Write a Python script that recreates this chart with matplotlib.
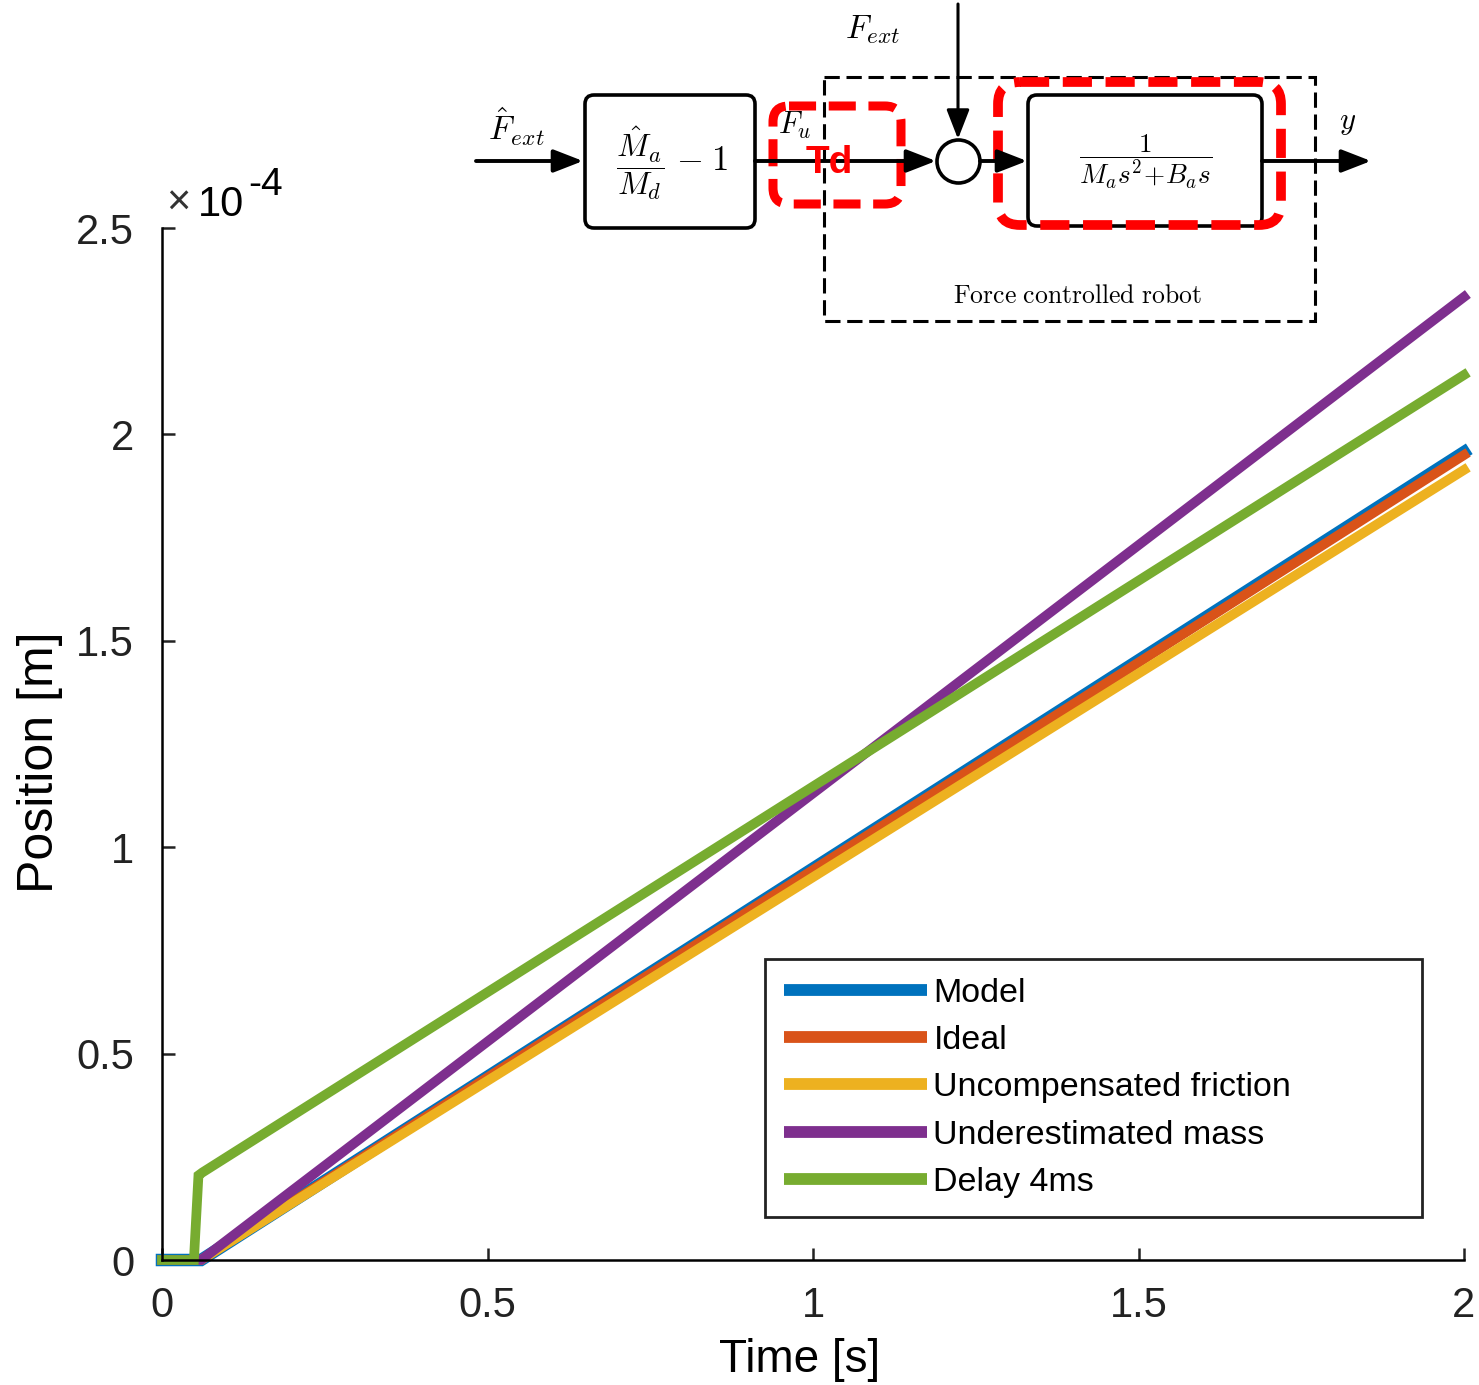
import numpy as np
import matplotlib
matplotlib.use('Agg')
import matplotlib.pyplot as plt
from matplotlib.patches import FancyBboxPatch, Circle, Rectangle

plt.rcParams['font.family'] = ['Liberation Sans', 'DejaVu Sans']
plt.rcParams['mathtext.fontset'] = 'cm'

# data, position in units of 1e-4 m
t_model = [0.0, 0.06, 2.0]
p_model = [0.0, 0.0, 1.957]
t_ideal = [0.0, 0.06, 2.0]
p_ideal = [0.0, 0.0, 1.950]
t_fric = [0.0, 0.06, 2.0]
p_fric = [0.0, 0.0, 1.914]
t_mass = [0.0, 0.06, 2.0]
p_mass = [0.0, 0.0, 2.333]
t_delay = [0.0, 0.049, 0.056, 0.062, 2.0]
p_delay = [0.0, 0.0, 0.205, 0.212, 2.144]

labels = ['Model', 'Ideal', 'Uncompensated friction', 'Underestimated mass', 'Delay 4ms']
colors = ['#0072BD', '#D95319', '#EDB120', '#7E2F8E', '#77AC30']
xticks = [0, 0.5, 1, 1.5, 2]
xticklabels = ['0', '0.5', '1', '1.5', '2']
yticks = [0, 0.5, 1, 1.5, 2, 2.5]
yticklabels = ['0', '0.5', '1', '1.5', '2', '2.5']

W, H = 1479, 1385
fig = plt.figure(figsize=(W / 100, H / 100), dpi=100)
ax = fig.add_axes([162 / W, 1 - 1260 / H, (1464 - 162) / W, (1260 - 228) / H])

series = [(t_model, p_model), (t_ideal, p_ideal), (t_fric, p_fric),
          (t_mass, p_mass), (t_delay, p_delay)]
widths = [9.0, 7.0, 7.0, 7.0, 7.0]
for (t, p), lab, c, lw in zip(series, labels, colors, widths):
    ax.plot(t, p, color=c, lw=lw, label=lab, clip_on=False,
            solid_joinstyle='miter')

ax.set_xlim(0, 2)
ax.set_ylim(0, 2.5)
ax.set_xticks(xticks)
ax.set_xticklabels(xticklabels)
ax.set_yticks(yticks)
ax.set_yticklabels(yticklabels)
for s in ['top', 'right']:
    ax.spines[s].set_visible(False)
for s in ['left', 'bottom']:
    ax.spines[s].set_linewidth(1.8)
ax.tick_params(direction='in', length=9, width=1.8, labelsize=30,
               pad=20, colors='#222222')
ax.tick_params(axis='x', pad=19)

fig.text(800 / W, 1 - 1360 / H, 'Time [s]', fontsize=33, ha='center', va='center')
fig.text(40 / W, 1 - 762 / H, 'Position [m]', fontsize=36, rotation=90,
         ha='center', va='center')
fig.text(178 / W, 1 - 204 / H, '\u00d7', fontsize=30, ha='center', va='center',
         color='#333333')
fig.text(198 / W, 1 - 216 / H, '10', fontsize=30, ha='left', va='baseline')
fig.text(248 / W, 1 - 195 / H, '-4', fontsize=28, ha='left', va='baseline')

leg = ax.legend(loc='upper left',
                bbox_to_anchor=((765 - 162) / (1464 - 162),
                                (1260 - 959) / (1260 - 228),
                                (1422 - 765) / (1464 - 162),
                                0.0),
                mode='expand', borderaxespad=0,
                prop={'size': 24.5},
                handlelength=4.2, handletextpad=0.2, labelspacing=0.48,
                borderpad=0.55, fancybox=False, framealpha=1, edgecolor='#222222')
leg.get_frame().set_linewidth(2.0)
for h in leg.get_lines():
    h.set_linewidth(8.5)
    h.set_solid_capstyle('butt')

# block diagram on top, drawn in pixel coordinates
d = fig.add_axes([0, 0, 1, 1], zorder=5)
d.set_xlim(0, W)
d.set_ylim(H, 0)
d.axis('off')
d.patch.set_alpha(0)

arrow = dict(arrowstyle='-|>,head_length=0.9,head_width=0.35', lw=2.8, color='k',
             mutation_scale=20, shrinkA=0, shrinkB=0)
d.annotate('', xy=(583, 161), xytext=(476, 161), arrowprops=arrow)
d.annotate('', xy=(936, 161), xytext=(755, 161), arrowprops=arrow)
d.annotate('', xy=(958, 139), xytext=(958, 4), arrowprops=dict(arrow, lw=2.2))
d.annotate('', xy=(1027, 161), xytext=(980, 161), arrowprops=arrow)
d.annotate('', xy=(1371, 161), xytext=(1262, 161), arrowprops=arrow)

d.add_patch(FancyBboxPatch((585, 95), 170, 133, boxstyle='round,pad=0,rounding_size=9',
                           fc='white', ec='k', lw=2.6))
d.add_patch(FancyBboxPatch((1028, 95), 234, 131, boxstyle='round,pad=0,rounding_size=9',
                           fc='none', ec='k', lw=2.6))
d.add_patch(Circle((958.5, 161.5), 21.5, fc='white', ec='k', lw=2.6))
d.add_patch(Rectangle((824, 77), 491, 244, fc='none', ec='k', lw=2.2,
                      ls=(0, (5, 2.2))))
d.add_patch(FancyBboxPatch((773, 106), 128, 98, boxstyle='round,pad=0,rounding_size=16',
                           fc='none', ec='#ff0000', lw=6.5, ls=(0, (3, 1.4))))
d.add_patch(FancyBboxPatch((998, 82), 283, 143, boxstyle='round,pad=0,rounding_size=22',
                           fc='none', ec='#ff0000', lw=7, ls=(0, (3, 1.4))))

d.text(516, 127, r'$\hat{F}_{ext}$', fontsize=24, ha='center', va='center')
d.text(873, 30, r'$F_{ext}$', fontsize=24, ha='center', va='center')
d.text(795, 125, r'$F_u$', fontsize=22, ha='center', va='center')
d.text(640, 163, r'$\dfrac{\hat{M}_a}{M_d}$', fontsize=23, ha='center', va='center')
d.text(702, 161, r'$-\;1$', fontsize=25, ha='center', va='center')
d.text(1146, 162, r'$\dfrac{1}{M_a s^2\!+\!B_a s}$', fontsize=19.5, ha='center', va='center')
d.text(1348, 122, r'$y$', fontsize=22, ha='center', va='center')
d.text(1078, 296, r'$\mathrm{Force\ controlled\ robot}$', fontsize=18.5,
       ha='center', va='center')
d.text(829, 163, 'Td', fontsize=28, fontweight='bold', color='#ff0000',
       ha='center', va='center')

fig.savefig('out.png', dpi=100)
